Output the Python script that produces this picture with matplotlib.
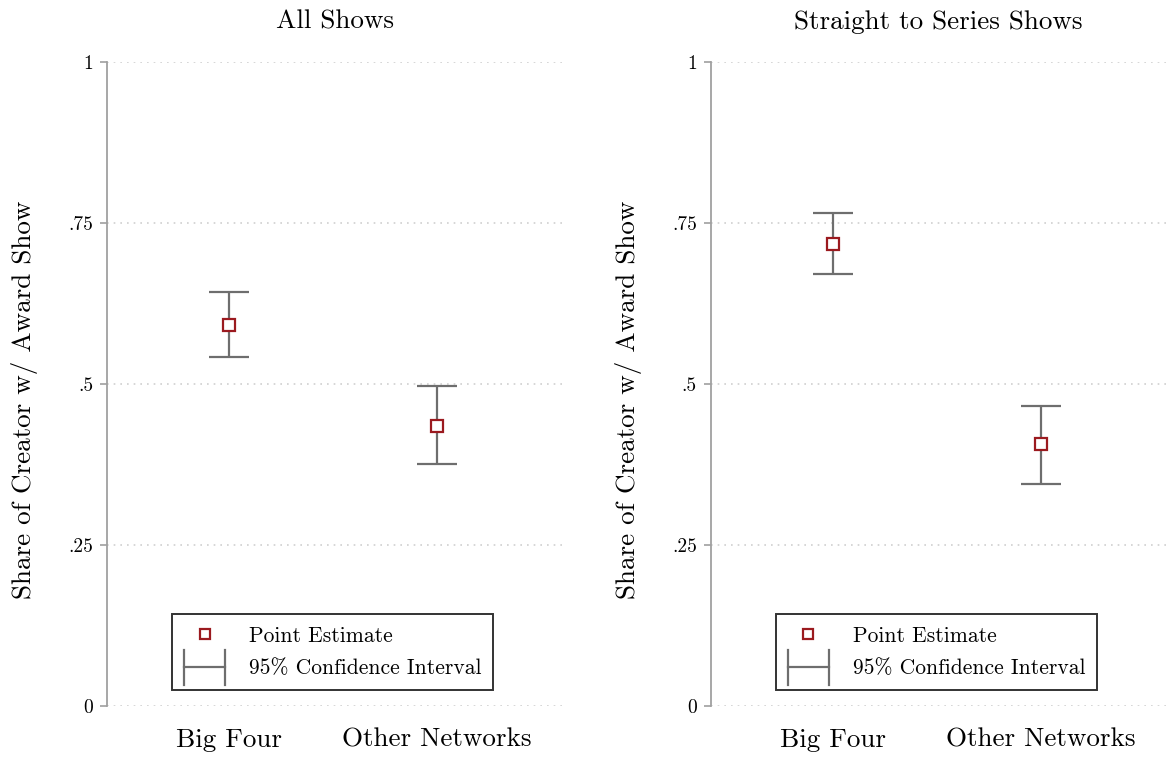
import numpy as np
import matplotlib.pyplot as plt
from matplotlib.lines import Line2D
from matplotlib.legend_handler import HandlerBase

plt.rcParams['font.family'] = ['cmr10', 'DejaVu Serif']
plt.rcParams['axes.formatter.use_mathtext'] = True

# data
categories = ["Big Four", "Other Networks"]
panel_titles = ["All Shows", "Straight to Series Shows"]
estimates = [[0.592, 0.435], [0.717, 0.407]]
ci_low = [[0.542, 0.376], [0.671, 0.345]]
ci_high = [[0.643, 0.497], [0.766, 0.466]]
yticks = [0, 0.25, 0.5, 0.75, 1]
ytick_labels = ["0", ".25", ".5", ".75", "1"]

ci_color = "#6e6e6e"
pt_color = "#9b1a1f"


class HandlerCI(HandlerBase):
    # draws the |--| symbol used for the confidence interval in the legend
    def create_artists(self, legend, orig_handle, xdescent, ydescent,
                       width, height, fontsize, trans):
        y0, y1 = -ydescent - 0.7 * height, -ydescent + 1.6 * height
        ym = (y0 + y1) / 2
        x0, x1 = -xdescent, -xdescent + width
        kw = dict(color=ci_color, lw=1.6, transform=trans)
        return [Line2D([x0, x1], [ym, ym], **kw),
                Line2D([x0, x0], [y0, y1], **kw),
                Line2D([x1, x1], [y0, y1], **kw)]


fig = plt.figure(figsize=(11.68, 7.59), dpi=100)
x = np.arange(1, len(categories) + 1)

for i in range(2):
    ax = fig.add_axes([0.0916 + i * 0.517, 0.0698, 0.3896, 0.8485])
    est = np.array(estimates[i])
    lo = np.array(ci_low[i])
    hi = np.array(ci_high[i])
    ax.errorbar(x, est, yerr=[est - lo, hi - est], fmt='none',
                ecolor=ci_color, elinewidth=1.6, capsize=14.5, capthick=1.6,
                zorder=2)
    ax.plot(x, est, 's', mfc='white', mec=pt_color, mew=1.6, ms=9,
            ls='none', zorder=3)

    ax.set_xlim(0.413, 2.6)
    ax.set_ylim(0, 1)
    ax.set_yticks(yticks)
    ax.set_yticklabels(ytick_labels, fontsize=14)
    ax.set_xticks(x)
    ax.set_xticklabels(categories, fontsize=19.5)
    ax.tick_params(axis='x', length=0, pad=16)
    ax.tick_params(axis='y', length=5, width=1.2, color="#a0a0a0", pad=5)
    for s in ['top', 'right', 'bottom']:
        ax.spines[s].set_visible(False)
    ax.spines['left'].set_color("#a0a0a0")
    ax.spines['left'].set_linewidth(1.3)
    ax.grid(axis='y', color="#cfcfcf", linestyle=(0, (1, 3)), linewidth=1.2)
    ax.set_axisbelow(True)
    ax.set_title(panel_titles[i], fontsize=19.5, pad=24)
    ax.set_ylabel("Share of Creator w/ Award Show", fontsize=19.5)
    ax.yaxis.set_label_coords(-0.152, 0.475)

    pt_handle = Line2D([], [], marker='s', mfc='white', mec=pt_color,
                       mew=1.6, ms=7, ls='none')
    ci_handle = Line2D([], [])
    leg = ax.legend([pt_handle, ci_handle],
                    ["Point Estimate", "95% Confidence Interval"],
                    handler_map={ci_handle: HandlerCI()},
                    loc='lower center', bbox_to_anchor=(0.496, 0.025),
                    fontsize=15.5, fancybox=False, framealpha=1,
                    edgecolor="#333333", handlelength=1.9, handletextpad=1.1,
                    borderpad=0.55, labelspacing=0.6, borderaxespad=0)
    leg.get_frame().set_linewidth(1.4)

fig.savefig("out.png", dpi=100)
